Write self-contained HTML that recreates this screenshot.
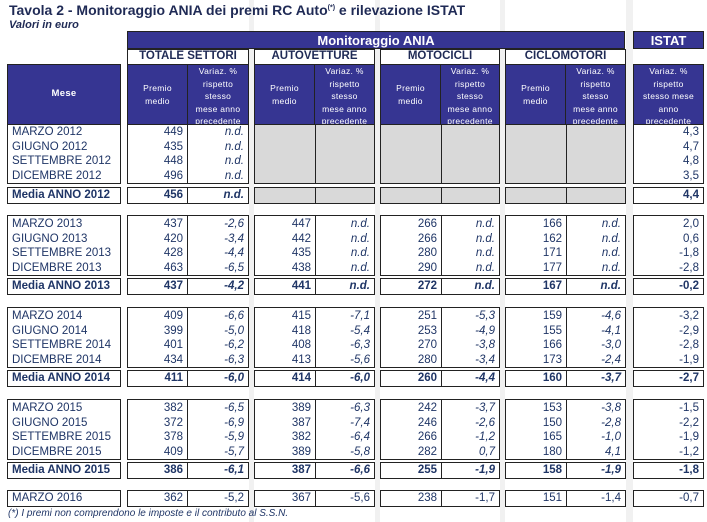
<!DOCTYPE html>
<html><head><meta charset="utf-8"><style>
body{margin:0;width:707px;height:522px;background:#fff;position:relative;overflow:hidden;font-family:"Liberation Sans",sans-serif;color:#1f3566}
.a{position:absolute;box-sizing:border-box}
.s{background:#f1f1f1}
.blue{background:#363592;color:#fff;font-weight:bold}
.g{border:1.5px solid #222;background:#fff}
.gh{border:1.5px solid #222;background:#fff;font-weight:bold;font-size:11.5px;text-align:center;line-height:13px;color:#1f2a55}
.hc{background:#363592;color:#fff;font-size:8.5px;text-align:center;line-height:12.5px;border:1.5px solid #222;letter-spacing:.3px}
.c{position:absolute;top:0;bottom:0;font-size:11.5px;line-height:14.6px;text-align:right;padding-right:4px;box-sizing:border-box}
.l{text-align:left;padding-left:4px}
.i{font-style:italic}
.b{font-weight:bold}
.gray{background:#d9d9d9}
</style></head><body>
<div class="a s" style="left:249px;top:0;width:5px;height:522px"></div>
<div class="a s" style="left:375px;top:0;width:5px;height:522px"></div>
<div class="a s" style="left:500px;top:0;width:5px;height:522px"></div>
<div class="a s" style="left:626px;top:0;width:7px;height:522px"></div>
<div class="a" style="left:9px;top:2px;font-size:14px;font-weight:bold;color:#1f2a55">Tavola 2 - Monitoraggio ANIA dei premi RC Auto<sup style="font-size:7px">(*)</sup> e rilevazione ISTAT</div>
<div class="a" style="left:9px;top:19px;font-size:11px;font-weight:bold;font-style:italic;color:#1f2a55">Valori in euro</div>
<div class="a blue" style="left:127px;top:31px;width:498px;height:18px;font-size:13px;line-height:18px;text-align:center;border:1px solid #222">Monitoraggio ANIA</div>
<div class="a blue" style="left:633px;top:31px;width:71px;height:18px;font-size:13px;line-height:18px;text-align:center;border:1.5px solid #222">ISTAT</div>
<div class="a gh" style="left:127px;top:49px;width:122px;height:16px">TOTALE SETTORI</div>
<div class="a gh" style="left:254px;top:49px;width:121px;height:16px">AUTOVETTURE</div>
<div class="a gh" style="left:380px;top:49px;width:120px;height:16px">MOTOCICLI</div>
<div class="a gh" style="left:505px;top:49px;width:121px;height:16px">CICLOMOTORI</div>
<div class="a hc" style="left:7px;top:64px;width:114px;height:61px;line-height:58px;font-weight:bold;font-size:9.5px">Mese</div>
<div class="a hc" style="left:127px;top:64px;width:61px;height:61px;padding-top:17px">Premio<br>medio</div>
<div class="a hc" style="left:187px;top:64px;width:62px;height:61px">Variaz. %<br>rispetto<br>stesso<br>mese anno<br>precedente</div>
<div class="a hc" style="left:254px;top:64px;width:61px;height:61px;padding-top:17px">Premio<br>medio</div>
<div class="a hc" style="left:314px;top:64px;width:61px;height:61px">Variaz. %<br>rispetto<br>stesso<br>mese anno<br>precedente</div>
<div class="a hc" style="left:380px;top:64px;width:61px;height:61px;padding-top:17px">Premio<br>medio</div>
<div class="a hc" style="left:440px;top:64px;width:60px;height:61px">Variaz. %<br>rispetto<br>stesso<br>mese anno<br>precedente</div>
<div class="a hc" style="left:505px;top:64px;width:61px;height:61px;padding-top:17px">Premio<br>medio</div>
<div class="a hc" style="left:565px;top:64px;width:61px;height:61px">Variaz. %<br>rispetto<br>stesso<br>mese anno<br>precedente</div>
<div class="a hc" style="left:633px;top:64px;width:71px;height:61px">Variaz. %<br>rispetto<br>stesso mese<br>anno<br>precedente</div>

<!-- Block 2012 -->
<div class="a g" style="left:7px;top:124px;width:114px;height:60px"><div class="c l" style="left:0;right:0">MARZO 2012<br>GIUGNO 2012<br>SETTEMBRE 2012<br>DICEMBRE 2012</div></div>
<div class="a g" style="left:127px;top:124px;width:122px;height:60px"><div class="c" style="left:0;width:60px;border-right:1.5px solid #222">449<br>435<br>448<br>496</div><div class="c i" style="left:60px;right:0">n.d.<br>n.d.<br>n.d.<br>n.d.</div></div>
<div class="a g gray" style="left:254px;top:124px;width:121px;height:60px"><div class="c" style="left:0;width:61px;border-right:1.5px solid #222"></div></div>
<div class="a g gray" style="left:380px;top:124px;width:120px;height:60px"><div class="c" style="left:0;width:61px;border-right:1.5px solid #222"></div></div>
<div class="a g gray" style="left:505px;top:124px;width:121px;height:60px"><div class="c" style="left:0;width:61px;border-right:1.5px solid #222"></div></div>
<div class="a g" style="left:633px;top:124px;width:71px;height:60px"><div class="c" style="left:0;right:0">4,3<br>4,7<br>4,8<br>3,5</div></div>
<!-- Media 2012 -->
<div class="a g" style="left:7px;top:187px;width:114px;height:17px"><div class="c l b" style="left:0;right:0;line-height:14px">Media ANNO 2012</div></div>
<div class="a g" style="left:127px;top:187px;width:122px;height:17px"><div class="c b" style="left:0;width:60px;border-right:1.5px solid #222;line-height:14px">456</div><div class="c b i" style="left:60px;right:0;line-height:14px">n.d.</div></div>
<div class="a g gray" style="left:254px;top:187px;width:121px;height:17px"><div class="c" style="left:0;width:61px;border-right:1.5px solid #222"></div></div>
<div class="a g gray" style="left:380px;top:187px;width:120px;height:17px"><div class="c" style="left:0;width:61px;border-right:1.5px solid #222"></div></div>
<div class="a g gray" style="left:505px;top:187px;width:121px;height:17px"><div class="c" style="left:0;width:61px;border-right:1.5px solid #222"></div></div>
<div class="a g" style="left:633px;top:187px;width:71px;height:17px"><div class="c b" style="left:0;right:0;line-height:14px">4,4</div></div>

<!-- Block 2013 -->
<div class="a g" style="left:7px;top:215px;width:114px;height:61px"><div class="c l" style="left:0;right:0;padding-top:1px">MARZO 2013<br>GIUGNO 2013<br>SETTEMBRE 2013<br>DICEMBRE 2013</div></div>
<div class="a g" style="left:127px;top:215px;width:122px;height:61px"><div class="c" style="left:0;width:60px;border-right:1.5px solid #222;padding-top:1px">437<br>420<br>428<br>463</div><div class="c i" style="left:60px;right:0;padding-top:1px">-2,6<br>-3,4<br>-4,4<br>-6,5</div></div>
<div class="a g" style="left:254px;top:215px;width:121px;height:61px"><div class="c" style="left:0;width:61px;border-right:1.5px solid #222;padding-top:1px">447<br>442<br>435<br>438</div><div class="c i" style="left:61px;right:0;padding-top:1px">n.d.<br>n.d.<br>n.d.<br>n.d.</div></div>
<div class="a g" style="left:380px;top:215px;width:120px;height:61px"><div class="c" style="left:0;width:61px;border-right:1.5px solid #222;padding-top:1px">266<br>266<br>280<br>290</div><div class="c i" style="left:61px;right:0;padding-top:1px">n.d.<br>n.d.<br>n.d.<br>n.d.</div></div>
<div class="a g" style="left:505px;top:215px;width:121px;height:61px"><div class="c" style="left:0;width:61px;border-right:1.5px solid #222;padding-top:1px">166<br>162<br>171<br>177</div><div class="c i" style="left:61px;right:0;padding-top:1px">n.d.<br>n.d.<br>n.d.<br>n.d.</div></div>
<div class="a g" style="left:633px;top:215px;width:71px;height:61px"><div class="c" style="left:0;right:0;padding-top:1px">2,0<br>0,6<br>-1,8<br>-2,8</div></div>
<!-- Media 2013 -->
<div class="a g" style="left:7px;top:278px;width:114px;height:17px"><div class="c l b" style="left:0;right:0;line-height:14px">Media ANNO 2013</div></div>
<div class="a g" style="left:127px;top:278px;width:122px;height:17px"><div class="c b" style="left:0;width:60px;border-right:1.5px solid #222;line-height:14px">437</div><div class="c b i" style="left:60px;right:0;line-height:14px">-4,2</div></div>
<div class="a g" style="left:254px;top:278px;width:121px;height:17px"><div class="c b" style="left:0;width:61px;border-right:1.5px solid #222;line-height:14px">441</div><div class="c b i" style="left:61px;right:0;line-height:14px">n.d.</div></div>
<div class="a g" style="left:380px;top:278px;width:120px;height:17px"><div class="c b" style="left:0;width:61px;border-right:1.5px solid #222;line-height:14px">272</div><div class="c b i" style="left:61px;right:0;line-height:14px">n.d.</div></div>
<div class="a g" style="left:505px;top:278px;width:121px;height:17px"><div class="c b" style="left:0;width:61px;border-right:1.5px solid #222;line-height:14px">167</div><div class="c b i" style="left:61px;right:0;line-height:14px">n.d.</div></div>
<div class="a g" style="left:633px;top:278px;width:71px;height:17px"><div class="c b" style="left:0;right:0;line-height:14px">-0,2</div></div>

<!-- Block 2014 -->
<div class="a g" style="left:7px;top:307px;width:114px;height:61px"><div class="c l" style="left:0;right:0;padding-top:1px">MARZO 2014<br>GIUGNO 2014<br>SETTEMBRE 2014<br>DICEMBRE 2014</div></div>
<div class="a g" style="left:127px;top:307px;width:122px;height:61px"><div class="c" style="left:0;width:60px;border-right:1.5px solid #222;padding-top:1px">409<br>399<br>401<br>434</div><div class="c i" style="left:60px;right:0;padding-top:1px">-6,6<br>-5,0<br>-6,2<br>-6,3</div></div>
<div class="a g" style="left:254px;top:307px;width:121px;height:61px"><div class="c" style="left:0;width:61px;border-right:1.5px solid #222;padding-top:1px">415<br>418<br>408<br>413</div><div class="c i" style="left:61px;right:0;padding-top:1px">-7,1<br>-5,4<br>-6,3<br>-5,6</div></div>
<div class="a g" style="left:380px;top:307px;width:120px;height:61px"><div class="c" style="left:0;width:61px;border-right:1.5px solid #222;padding-top:1px">251<br>253<br>270<br>280</div><div class="c i" style="left:61px;right:0;padding-top:1px">-5,3<br>-4,9<br>-3,8<br>-3,4</div></div>
<div class="a g" style="left:505px;top:307px;width:121px;height:61px"><div class="c" style="left:0;width:61px;border-right:1.5px solid #222;padding-top:1px">159<br>155<br>166<br>173</div><div class="c i" style="left:61px;right:0;padding-top:1px">-4,6<br>-4,1<br>-3,0<br>-2,4</div></div>
<div class="a g" style="left:633px;top:307px;width:71px;height:61px"><div class="c" style="left:0;right:0;padding-top:1px">-3,2<br>-2,9<br>-2,8<br>-1,9</div></div>
<!-- Media 2014 -->
<div class="a g" style="left:7px;top:370px;width:114px;height:17px"><div class="c l b" style="left:0;right:0;line-height:14px">Media ANNO 2014</div></div>
<div class="a g" style="left:127px;top:370px;width:122px;height:17px"><div class="c b" style="left:0;width:60px;border-right:1.5px solid #222;line-height:14px">411</div><div class="c b i" style="left:60px;right:0;line-height:14px">-6,0</div></div>
<div class="a g" style="left:254px;top:370px;width:121px;height:17px"><div class="c b" style="left:0;width:61px;border-right:1.5px solid #222;line-height:14px">414</div><div class="c b i" style="left:61px;right:0;line-height:14px">-6,0</div></div>
<div class="a g" style="left:380px;top:370px;width:120px;height:17px"><div class="c b" style="left:0;width:61px;border-right:1.5px solid #222;line-height:14px">260</div><div class="c b i" style="left:61px;right:0;line-height:14px">-4,4</div></div>
<div class="a g" style="left:505px;top:370px;width:121px;height:17px"><div class="c b" style="left:0;width:61px;border-right:1.5px solid #222;line-height:14px">160</div><div class="c b i" style="left:61px;right:0;line-height:14px">-3,7</div></div>
<div class="a g" style="left:633px;top:370px;width:71px;height:17px"><div class="c b" style="left:0;right:0;line-height:14px">-2,7</div></div>

<!-- Block 2015 -->
<div class="a g" style="left:7px;top:399px;width:114px;height:61px"><div class="c l" style="left:0;right:0;padding-top:1px">MARZO 2015<br>GIUGNO 2015<br>SETTEMBRE 2015<br>DICEMBRE 2015</div></div>
<div class="a g" style="left:127px;top:399px;width:122px;height:61px"><div class="c" style="left:0;width:60px;border-right:1.5px solid #222;padding-top:1px">382<br>372<br>378<br>409</div><div class="c i" style="left:60px;right:0;padding-top:1px">-6,5<br>-6,9<br>-5,9<br>-5,7</div></div>
<div class="a g" style="left:254px;top:399px;width:121px;height:61px"><div class="c" style="left:0;width:61px;border-right:1.5px solid #222;padding-top:1px">389<br>387<br>382<br>389</div><div class="c i" style="left:61px;right:0;padding-top:1px">-6,3<br>-7,4<br>-6,4<br>-5,8</div></div>
<div class="a g" style="left:380px;top:399px;width:120px;height:61px"><div class="c" style="left:0;width:61px;border-right:1.5px solid #222;padding-top:1px">242<br>246<br>266<br>282</div><div class="c i" style="left:61px;right:0;padding-top:1px">-3,7<br>-2,6<br>-1,2<br>0,7</div></div>
<div class="a g" style="left:505px;top:399px;width:121px;height:61px"><div class="c" style="left:0;width:61px;border-right:1.5px solid #222;padding-top:1px">153<br>150<br>165<br>180</div><div class="c i" style="left:61px;right:0;padding-top:1px">-3,8<br>-2,8<br>-1,0<br>4,1</div></div>
<div class="a g" style="left:633px;top:399px;width:71px;height:61px"><div class="c" style="left:0;right:0;padding-top:1px">-1,5<br>-2,2<br>-1,9<br>-1,2</div></div>
<!-- Media 2015 -->
<div class="a g" style="left:7px;top:462px;width:114px;height:17px"><div class="c l b" style="left:0;right:0;line-height:14px">Media ANNO 2015</div></div>
<div class="a g" style="left:127px;top:462px;width:122px;height:17px"><div class="c b" style="left:0;width:60px;border-right:1.5px solid #222;line-height:14px">386</div><div class="c b i" style="left:60px;right:0;line-height:14px">-6,1</div></div>
<div class="a g" style="left:254px;top:462px;width:121px;height:17px"><div class="c b" style="left:0;width:61px;border-right:1.5px solid #222;line-height:14px">387</div><div class="c b i" style="left:61px;right:0;line-height:14px">-6,6</div></div>
<div class="a g" style="left:380px;top:462px;width:120px;height:17px"><div class="c b" style="left:0;width:61px;border-right:1.5px solid #222;line-height:14px">255</div><div class="c b i" style="left:61px;right:0;line-height:14px">-1,9</div></div>
<div class="a g" style="left:505px;top:462px;width:121px;height:17px"><div class="c b" style="left:0;width:61px;border-right:1.5px solid #222;line-height:14px">158</div><div class="c b i" style="left:61px;right:0;line-height:14px">-1,9</div></div>
<div class="a g" style="left:633px;top:462px;width:71px;height:17px"><div class="c b" style="left:0;right:0;line-height:14px">-1,8</div></div>

<!-- Marzo 2016 -->
<div class="a g" style="left:7px;top:490px;width:114px;height:17px"><div class="c l" style="left:0;right:0;line-height:14px">MARZO 2016</div></div>
<div class="a g" style="left:127px;top:490px;width:122px;height:17px"><div class="c" style="left:0;width:60px;border-right:1.5px solid #222;line-height:14px">362</div><div class="c" style="left:60px;right:0;line-height:14px">-5,2</div></div>
<div class="a g" style="left:254px;top:490px;width:121px;height:17px"><div class="c" style="left:0;width:61px;border-right:1.5px solid #222;line-height:14px">367</div><div class="c" style="left:61px;right:0;line-height:14px">-5,6</div></div>
<div class="a g" style="left:380px;top:490px;width:120px;height:17px"><div class="c" style="left:0;width:61px;border-right:1.5px solid #222;line-height:14px">238</div><div class="c" style="left:61px;right:0;line-height:14px">-1,7</div></div>
<div class="a g" style="left:505px;top:490px;width:121px;height:17px"><div class="c" style="left:0;width:61px;border-right:1.5px solid #222;line-height:14px">151</div><div class="c" style="left:61px;right:0;line-height:14px">-1,4</div></div>
<div class="a g" style="left:633px;top:490px;width:71px;height:17px"><div class="c" style="left:0;right:0;line-height:14px">-0,7</div></div>

<div class="a" style="left:8px;top:508px;font-size:10px;font-style:italic;color:#1f3566">(*) I premi non comprendono le imposte e il contributo al S.S.N.</div>
</body></html>
